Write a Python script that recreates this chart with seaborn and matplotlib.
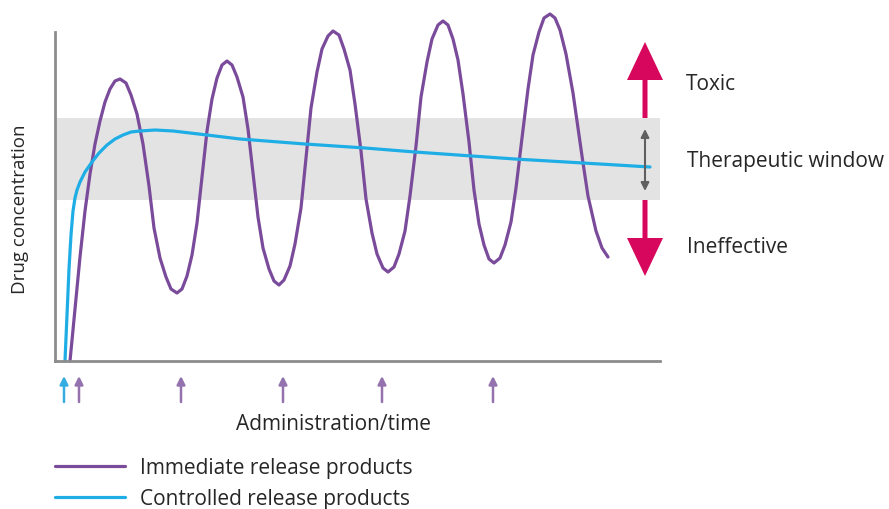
import numpy as np
import pandas as pd
import matplotlib
matplotlib.use("Agg")
import matplotlib.pyplot as plt
import seaborn as sns

# time / concentration in arbitrary units
ir_time = [15, 20, 25, 30, 35, 40, 45, 50, 55, 60, 65,
           71, 76, 82, 88, 94, 99, 105, 111, 116, 122,
           127, 132, 137, 142, 147, 152, 157, 162, 167, 172,
           177, 182, 188, 193, 198, 203, 208, 214, 219, 224,
           229, 235, 240, 246, 251, 256, 262, 267, 273, 278,
           284, 289, 295, 300, 306, 311, 317, 322, 328, 333,
           339, 344, 350, 355, 361, 366, 372, 377, 383, 388,
           393, 398, 403, 408, 414, 419, 424, 429, 434, 439,
           445, 450, 456, 461, 467, 473, 478, 484, 489, 495,
           500, 505, 511, 518, 527, 533, 541, 547, 553]
ir_conc = [0, 52, 104, 150, 187, 217, 240, 259, 272, 280, 282,
           278, 266, 247, 217, 175, 133, 103, 84, 72, 68,
           72, 85, 106, 138, 184, 230, 262, 283, 296, 300,
           296, 284, 264, 232, 188, 144, 113, 92, 80, 76,
           81, 95, 117, 153, 203, 253, 289, 312, 325, 330,
           326, 312, 291, 257, 210, 162, 128, 107, 93, 89,
           94, 107, 130, 165, 215, 264, 299, 322, 336, 340,
           336, 322, 301, 267, 219, 171, 137, 116, 102, 98,
           103, 116, 139, 173, 223, 272, 306, 329, 343, 347,
           343, 331, 307, 268, 205, 165, 130, 113, 104]

cr_time = [10, 12, 14, 16, 18, 20, 22, 25, 30, 37, 44, 52, 60, 68, 76, 85,
           100, 118, 152, 185, 250, 310, 360, 417, 460, 528, 595]
cr_conc = [0, 46, 92, 126, 150, 163, 171, 179, 189, 199, 208, 216, 222, 226, 229, 230,
           231, 230, 226, 222, 217, 213, 209, 205, 202, 198, 194]

ir_doses = [24, 126, 228, 327, 438]
cr_doses = [9]

window_low, window_high = 161, 243
y_top = 329

purple = "#7b4b9b"
blue = "#1eaee5"
magenta = "#d6075c"

sns.set_style("white")
plt.rcParams["font.family"] = ["Open Sans", "DejaVu Sans"]

fig = plt.figure(figsize=(8.89, 5.10), dpi=100)
ax = fig.add_axes([55 / 889, 148 / 510, 605 / 889, 362 / 510])

ir = pd.DataFrame({"time": ir_time, "conc": ir_conc})
cr = pd.DataFrame({"time": cr_time, "conc": cr_conc})

ax.axhspan(window_low, window_high, color="#e3e3e3", zorder=0, lw=0)
sns.lineplot(data=ir, x="time", y="conc", color=purple, linewidth=2.3,
             label="Immediate release products", ax=ax, clip_on=False,
             solid_joinstyle="round")
sns.lineplot(data=cr, x="time", y="conc", color=blue, linewidth=2.3,
             label="Controlled release products", ax=ax, clip_on=False,
             solid_joinstyle="round")

ax.set_xlim(0, 605)
ax.set_ylim(0, 362)
ax.set_xticks([])
ax.set_yticks([])
for s in ["top", "right"]:
    ax.spines[s].set_visible(False)
for s in ["left", "bottom"]:
    ax.spines[s].set_color("#8c8c8c")
    ax.spines[s].set_linewidth(2)
ax.spines["left"].set_bounds(0, y_top)

# dose arrows under the axis
for t in cr_doses:
    ax.annotate("", xy=(t, -15), xytext=(t, -41), annotation_clip=False,
                arrowprops=dict(arrowstyle="-|>", color="#35ade0", lw=1.8,
                                mutation_scale=12, shrinkA=0, shrinkB=0))
for t in ir_doses:
    ax.annotate("", xy=(t, -15), xytext=(t, -41), annotation_clip=False,
                arrowprops=dict(arrowstyle="-|>", color="#9372ad", lw=1.8,
                                mutation_scale=12, shrinkA=0, shrinkB=0))

# toxic / ineffective arrows
ax.arrow(590, window_high, 0, 76, width=5, head_width=36, head_length=38,
         length_includes_head=True, fc=magenta, ec="none", clip_on=False)
ax.arrow(590, window_low, 0, -76, width=5, head_width=36, head_length=38,
         length_includes_head=True, fc=magenta, ec="none", clip_on=False)
ax.annotate("", xy=(590, 232), xytext=(590, 170), annotation_clip=False,
            arrowprops=dict(arrowstyle="<|-|>", color="#5f5f5f", lw=1.5,
                            mutation_scale=12, shrinkA=0, shrinkB=0))

ax.text(631, 277, "Toxic", fontsize=15, va="center", ha="left", clip_on=False)
ax.text(632, 200, "Therapeutic window", fontsize=15, va="center", ha="left", clip_on=False)
ax.text(632, 114, "Ineffective", fontsize=15, va="center", ha="left", clip_on=False)

ax.set_xlabel("Administration/time", fontsize=15, va="center")
ax.xaxis.set_label_coords(278 / 605, -63 / 362)
ax.set_ylabel("Drug concentration", fontsize=13.5, va="center")
ax.yaxis.set_label_coords(-35 / 605, 153 / 362)

ax.legend(loc="upper left", bbox_to_anchor=(55 / 889, 1 - 458 / 510),
          bbox_transform=fig.transFigure, frameon=False, fontsize=15,
          borderpad=0, borderaxespad=0, handlelength=3.37,
          handletextpad=0.72, labelspacing=0.5)

fig.savefig("out.png", dpi=100)
